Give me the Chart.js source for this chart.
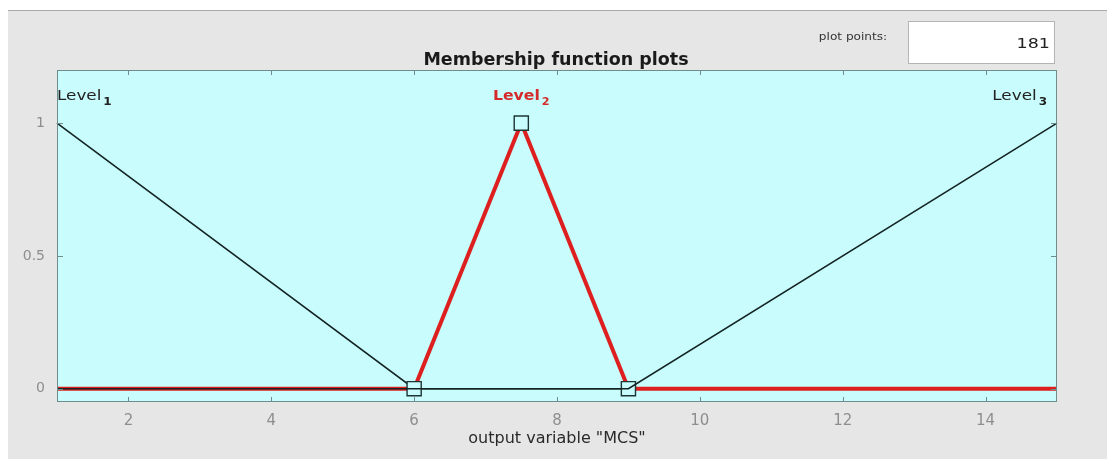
<!DOCTYPE html>
<html lang="en">
<head>
  <meta charset="UTF-8" />
  <title>Membership function plots</title>
  <script src="https://cdn.jsdelivr.net/npm/chart.js"></script>
  <style>
    html, body { margin: 0; padding: 0; background: #fff; }
    canvas { display: block; }
  </style>
</head>
<body>
  <canvas id="mfChart" width="1107" height="459"></canvas>

  <script>
    // output variable "MCS" range and ticks
    const xMin = 1, xMax = 15;
    const yMin = -0.05, yMax = 1.2;
    const xTicks = [2, 4, 6, 8, 10, 12, 14];
    const yTicks = [0, 0.5, 1];

    // triangular membership functions (vertices)
    const level1X = [1, 6, 15];
    const level1Y = [1, 0, 0];
    const level2X = [1, 6, 7.5, 9, 15];
    const level2Y = [0, 0, 1, 0, 0];
    const level3X = [1, 9, 15];
    const level3Y = [0, 0, 1];

    // label text and where it sits (peak of each mf)
    const mfNames = ['Level', 'Level', 'Level'];
    const mfSubs = ['1', '2', '3'];
    const mfPeaks = [1, 7.5, 15];
    const plotPoints = '181';

    const toXY = (xs, ys) => xs.map((x, i) => ({ x: x, y: ys[i] }));

    const frameColor = '#6f8c8c';
    const tickColor = '#8e8e8e';
    const axesBg = '#c9fcfc';
    const sans = '"DejaVu Sans", sans-serif';

    // text drawn a bit wider than the font, like the gui widgets
    function wideText(c, text, x, y, align, sx) {
      const w = c.measureText(text).width * sx;
      let x0 = x;
      if (align === 'center') x0 -= w / 2;
      if (align === 'right') x0 -= w;
      c.save();
      c.translate(x0, y);
      c.scale(sx, 1);
      c.textAlign = 'left';
      c.fillText(text, 0, 0);
      c.restore();
      return w;
    }

    // grey panel, cyan axes background, frame, inner ticks
    const panelPlugin = {
      id: 'panel',
      beforeDraw(chart) {
        const c = chart.ctx, a = chart.chartArea;
        c.save();
        c.fillStyle = '#ffffff';
        c.fillRect(0, 0, chart.width, chart.height);
        c.fillStyle = '#e6e6e6';
        c.fillRect(8, 10, chart.width - 8, chart.height - 10);
        c.strokeStyle = '#a9a9a9';
        c.lineWidth = 1;
        c.beginPath();
        c.moveTo(8, 10.5);
        c.lineTo(chart.width, 10.5);
        c.stroke();
        c.fillStyle = axesBg;
        c.fillRect(a.left, a.top, a.right - a.left, a.bottom - a.top);

        // plot points box
        c.fillStyle = '#ffffff';
        c.fillRect(908, 21, 147, 43);
        c.strokeStyle = '#b4b4b4';
        c.strokeRect(908.5, 21.5, 146, 42);
        c.textBaseline = 'middle';
        c.fillStyle = '#222';
        c.font = '14px ' + sans;
        wideText(c, plotPoints, 1050, 44, 'right', 1.25);
        c.fillStyle = '#333';
        c.font = '11px ' + sans;
        wideText(c, 'plot points:', 853, 37, 'center', 1.1);

        // title
        c.fillStyle = '#1a1a1a';
        c.font = 'bold 17.5px ' + sans;
        c.textBaseline = 'alphabetic';
        wideText(c, 'Membership function plots', 556, 65, 'center', 1);
        c.restore();
      },
      afterDatasetsDraw(chart) {
        const c = chart.ctx, a = chart.chartArea;
        const xs = chart.scales.x, ys = chart.scales.y;
        c.save();
        c.strokeStyle = frameColor;
        c.lineWidth = 1;
        c.strokeRect(a.left + 0.5, a.top + 0.5, a.right - a.left - 1, a.bottom - a.top - 1);
        c.beginPath();
        xTicks.forEach(v => {
          const px = Math.round(xs.getPixelForValue(v)) + 0.5;
          c.moveTo(px, a.bottom); c.lineTo(px, a.bottom - 5);
          c.moveTo(px, a.top); c.lineTo(px, a.top + 5);
        });
        yTicks.forEach(v => {
          const py = Math.round(ys.getPixelForValue(v)) + 0.5;
          c.moveTo(a.left, py); c.lineTo(a.left + 6, py);
          c.moveTo(a.right, py); c.lineTo(a.right - 6, py);
        });
        c.stroke();

        // mf labels with subscripts
        const aligns = ['left', 'center', 'right'];
        const shifts = [0, 0, -10];
        const colors = ['#222', '#d42a2a', '#222'];
        const weights = ['', 'bold ', ''];
        const stretch = [1.2, 1.12, 1.2];
        const baseY = ys.getPixelForValue(1) - 23;
        c.textBaseline = 'alphabetic';
        mfNames.forEach((name, i) => {
          const sx = stretch[i];
          c.font = weights[i] + '14px ' + sans;
          const w1 = c.measureText(name).width * sx;
          c.font = 'bold 10px ' + sans;
          const w2 = c.measureText(mfSubs[i]).width * sx + 2;
          let x0 = xs.getPixelForValue(mfPeaks[i]) + shifts[i];
          if (aligns[i] === 'center') x0 -= (w1 + w2) / 2;
          if (aligns[i] === 'right') x0 -= w1 + w2;
          c.fillStyle = colors[i];
          c.font = weights[i] + '14px ' + sans;
          wideText(c, name, x0, baseY, 'left', sx);
          c.font = 'bold 10px ' + sans;
          wideText(c, mfSubs[i], x0 + w1 + 2, baseY + 5, 'left', sx);
        });
        c.restore();
      }
    };

    new Chart(document.getElementById('mfChart'), {
      type: 'scatter',
      data: {
        datasets: [
          {
            label: 'Level3',
            data: toXY(level3X, level3Y),
            showLine: true,
            borderColor: '#142424',
            borderWidth: 1.6,
            pointRadius: 0,
            order: 0
          },
          {
            label: 'Level2',
            data: toXY(level2X, level2Y),
            showLine: true,
            borderColor: '#de1f1f',
            borderWidth: 4,
            borderJoinStyle: 'round',
            pointStyle: 'rect',
            pointRadius: [0, 10, 10, 10, 0],
            pointBackgroundColor: axesBg,
            pointBorderColor: '#1c3434',
            pointBorderWidth: 1.4,
            order: 1
          },
          {
            label: 'Level1',
            data: toXY(level1X, level1Y),
            showLine: true,
            borderColor: '#142424',
            borderWidth: 1.6,
            pointRadius: 0,
            order: 2
          }
        ]
      },
      options: {
        responsive: false,
        animation: false,
        clip: false,
        layout: { padding: { top: 70, right: 50, left: 0, bottom: 0 } },
        plugins: {
          legend: { display: false },
          title: { display: false },
          tooltip: { enabled: false }
        },
        scales: {
          x: {
            type: 'linear',
            min: xMin,
            max: xMax,
            afterBuildTicks: s => { s.ticks = xTicks.map(v => ({ value: v })); },
            afterFit: s => { s.height = 57; },
            grid: { display: false, drawTicks: false },
            border: { display: false },
            ticks: {
              padding: 10,
              color: tickColor,
              font: { family: sans, size: 15 },
              callback: v => String(v)
            },
            title: {
              display: true,
              text: 'output variable "MCS"',
              color: '#2a2a2a',
              font: { family: sans, size: 16 },
              padding: { top: 0, bottom: 11 }
            }
          },
          y: {
            type: 'linear',
            min: yMin,
            max: yMax,
            afterBuildTicks: s => { s.ticks = yTicks.map(v => ({ value: v })); },
            afterFit: s => { s.width = 57; },
            grid: { display: false, drawTicks: false },
            border: { display: false },
            ticks: {
              padding: 12,
              color: tickColor,
              font: { family: sans, size: 14 },
              callback: v => String(v)
            }
          }
        }
      },
      plugins: [panelPlugin]
    });
  </script>
</body>
</html>
